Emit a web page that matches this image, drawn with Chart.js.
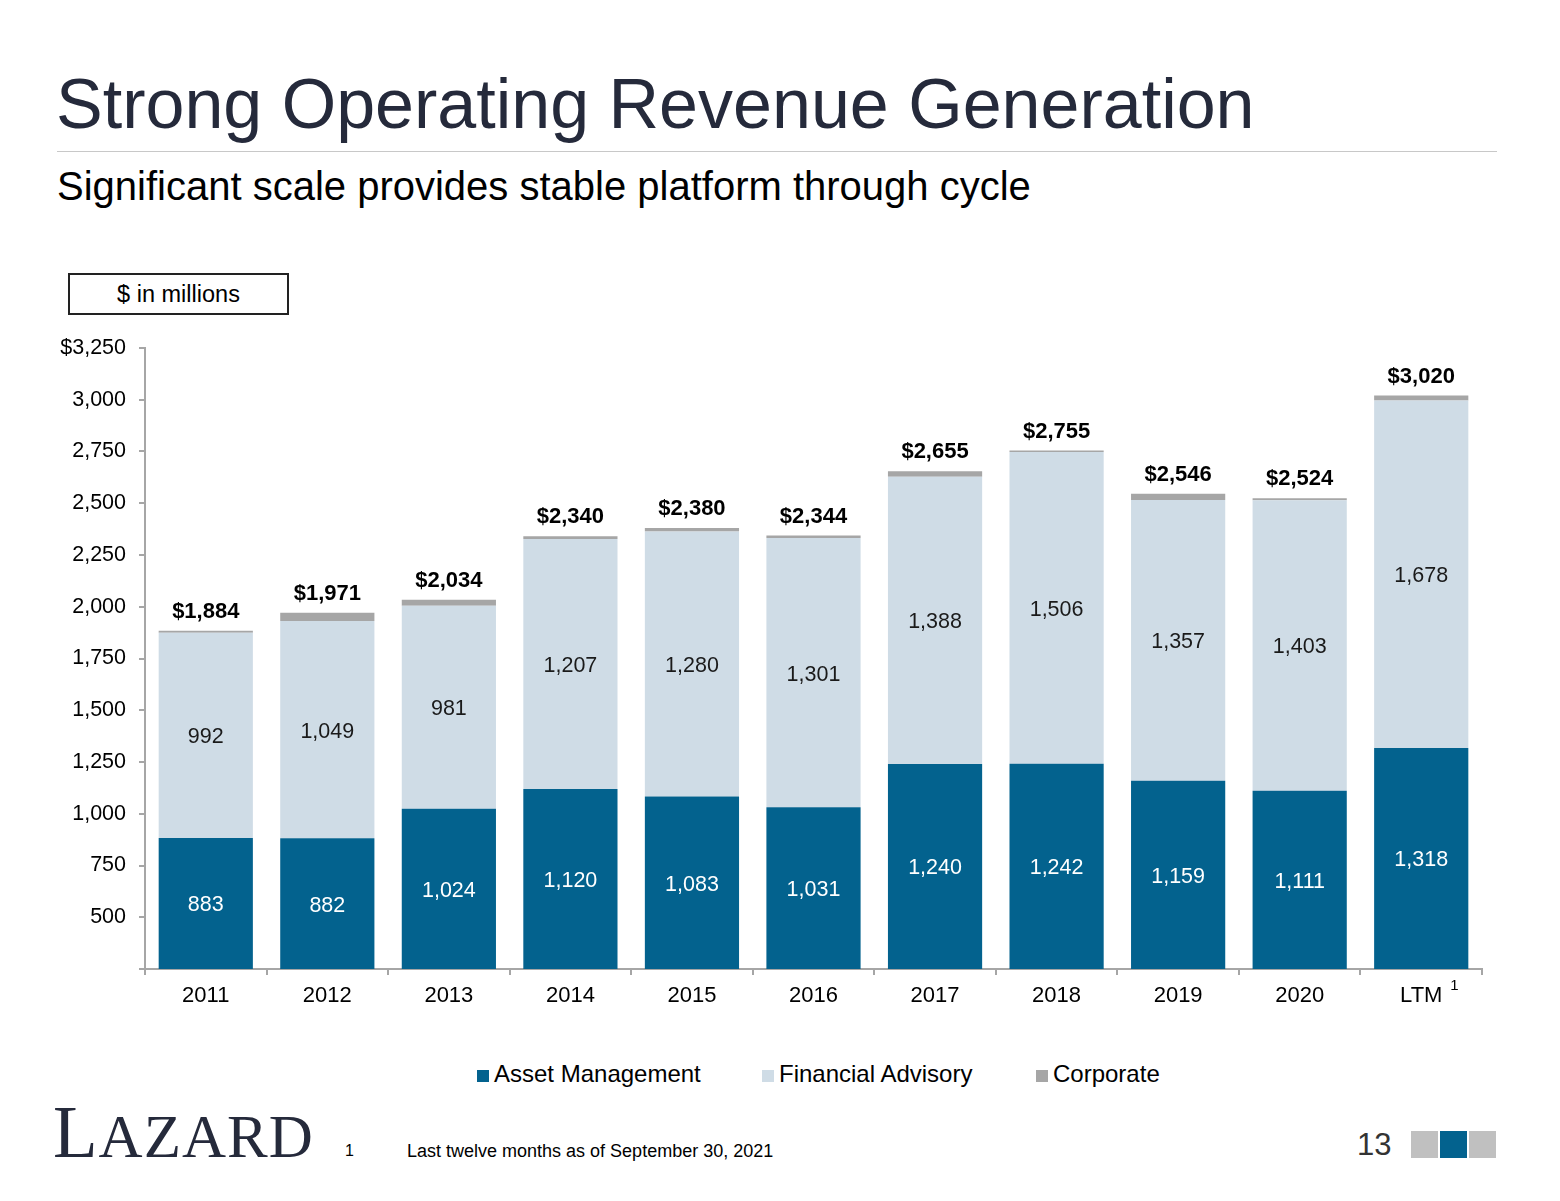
<!DOCTYPE html>
<html>
<head>
<meta charset="utf-8">
<script src="https://cdn.jsdelivr.net/npm/chart.js@4.4.0/dist/chart.umd.min.js"></script>
<style>
  html, body { margin:0; padding:0; background:#fff; }
  body { width:1560px; height:1201px; position:relative; overflow:hidden; font-family:"Liberation Sans", Arial, sans-serif; }
  .abs { position:absolute; white-space:nowrap; }
  #title { left:56px; top:62px; font-size:70px; color:#252a3b; line-height:84px; }
  #rule { left:57px; top:151px; width:1440px; height:1px; background:#c8c8c8; }
  #subtitle { left:57px; top:163px; font-size:40px; color:#000; line-height:46px; }
  #unitbox { left:68px; top:273px; width:217px; height:38px; border:2px solid #222; font-size:23.5px; line-height:39px; text-align:center; color:#000; }
  #chartwrap { left:0; top:300px; width:1560px; height:720px; }
  .leg { top:1060px; font-size:24px; line-height:28px; color:#000; }
  .sq { display:inline-block; width:12px; height:12px; margin-right:5px; vertical-align:0px; }
  #logo { left:53px; top:1093px; font-family:"Liberation Serif", "DejaVu Serif", serif; color:#252a3b; font-size:73px; line-height:80px; letter-spacing:1px; }
  #logo span { font-size:61px; }
  #fn1 { left:345px; top:1142px; font-size:16px; color:#000; }
  #fn { left:407px; top:1141px; font-size:18px; color:#000; }
  #pg { left:1357px; top:1127px; font-size:31px; color:#333; }
  .box { top:1131px; width:27px; height:27px; }
</style>
</head>
<body>
<div class="abs" id="title">Strong Operating Revenue Generation</div>
<div class="abs" id="rule"></div>
<div class="abs" id="subtitle">Significant scale provides stable platform through cycle</div>
<div class="abs" id="unitbox">$ in millions</div>
<div class="abs" id="chartwrap"><canvas id="c" width="1560" height="720"></canvas></div>
<div class="abs leg" style="left:477px;"><span class="sq" style="background:#03628e"></span>Asset Management</div>
<div class="abs leg" style="left:762px;"><span class="sq" style="background:#cfdce6"></span>Financial Advisory</div>
<div class="abs leg" style="left:1036px;"><span class="sq" style="background:#a6a6a6"></span>Corporate</div>
<div class="abs" id="logo">L<span>AZARD</span></div>
<div class="abs" id="fn1">1</div>
<div class="abs" id="fn">Last twelve months as of September 30, 2021</div>
<div class="abs" id="pg">13</div>
<div class="abs box" style="left:1411px;background:#c0c0c0"></div>
<div class="abs box" style="left:1440px;background:#03628e"></div>
<div class="abs box" style="left:1469px;background:#c0c0c0"></div>
<script>
const categories = ["2011","2012","2013","2014","2015","2016","2017","2018","2019","2020","LTM"];
const assetManagement = [883, 882, 1024, 1120, 1083, 1031, 1240, 1242, 1159, 1111, 1318];
const financialAdvisory = [992, 1049, 981, 1207, 1280, 1301, 1388, 1506, 1357, 1403, 1678];
const totals = [1884, 1971, 2034, 2340, 2380, 2344, 2655, 2755, 2546, 2524, 3020];
const corporate = totals.map((t, i) => t - assetManagement[i] - financialAdvisory[i]);
const yTicks = [250, 500, 750, 1000, 1250, 1500, 1750, 2000, 2250, 2500, 2750, 3000, 3250];

const fmt = v => v.toLocaleString("en-US");
const FONT = "Liberation Sans, Arial, sans-serif";

const labelPlugin = {
  id: "labels",
  afterDatasetsDraw(chart) {
    const ctx = chart.ctx;
    const area = chart.chartArea;
    const amMeta = chart.getDatasetMeta(0);
    const faMeta = chart.getDatasetMeta(1);
    const coMeta = chart.getDatasetMeta(2);
    ctx.save();
    ctx.textAlign = "center";
    ctx.textBaseline = "middle";
    categories.forEach((c, i) => {
      const am = amMeta.data[i];
      const bottom = Math.min(am.base, area.bottom);
      ctx.font = "21.5px " + FONT;
      ctx.fillStyle = "#ffffff";
      ctx.fillText(fmt(assetManagement[i]), am.x, (am.y + bottom) / 2 + 2);
      const fa = faMeta.data[i];
      ctx.fillStyle = "#1a1a1a";
      ctx.fillText(fmt(financialAdvisory[i]), fa.x, (fa.y + fa.base) / 2 + 2);
      const co = coMeta.data[i];
      ctx.font = "bold 22px " + FONT;
      ctx.fillStyle = "#000";
      ctx.fillText("$" + fmt(totals[i]), co.x, co.y - 19);
    });
    // superscript on LTM label
    const xs = chart.scales.x;
    const lx = xs.getPixelForValue(categories.length - 1);
    ctx.font = "15px " + FONT;
    ctx.fillStyle = "#000";
    ctx.textAlign = "left";
    ctx.fillText("1", lx + 29, area.bottom + 17);
    ctx.restore();
  }
};

new Chart(document.getElementById("c"), {
  type: "bar",
  data: {
    labels: categories,
    datasets: [
      { label: "Asset Management", data: assetManagement, backgroundColor: "#03628e" },
      { label: "Financial Advisory", data: financialAdvisory, backgroundColor: "#cfdce6" },
      { label: "Corporate", data: corporate, backgroundColor: "#a6a6a6" }
    ]
  },
  options: {
    responsive: false,
    animation: false,
    layout: { padding: { left: 0, right: 78, top: 48, bottom: 0 } },
    datasets: { bar: { categoryPercentage: 1, barPercentage: 0.775, borderWidth: 0 } },
    plugins: { legend: { display: false }, tooltip: { enabled: false } },
    scales: {
      x: {
        stacked: true,
        afterFit(s) { s.height = 51; },
        grid: { offset: true, drawOnChartArea: false, drawTicks: true, tickLength: 6, color: "#a6a6a6", lineWidth: 2 },
        border: { display: true, color: "#a6a6a6", width: 2 },
        ticks: { color: "#000", font: { family: FONT, size: 22 }, padding: 8, maxRotation: 0 }
      },
      y: {
        stacked: true,
        min: 250,
        max: 3250,
        afterFit(s) { s.width = 145; },
        afterBuildTicks(s) { s.ticks = yTicks.map(v => ({ value: v })); },
        grid: { drawOnChartArea: false, drawTicks: true, tickLength: 6, color: "#a6a6a6", lineWidth: 2 },
        border: { display: true, color: "#a6a6a6", width: 2 },
        ticks: {
          color: "#000",
          font: { family: FONT, size: 21.5 },
          padding: 13,
          callback: v => v === 250 ? "" : (v === 3250 ? "$" + fmt(v) : fmt(v))
        }
      }
    }
  },
  plugins: [labelPlugin]
});
</script>
</body>
</html>
